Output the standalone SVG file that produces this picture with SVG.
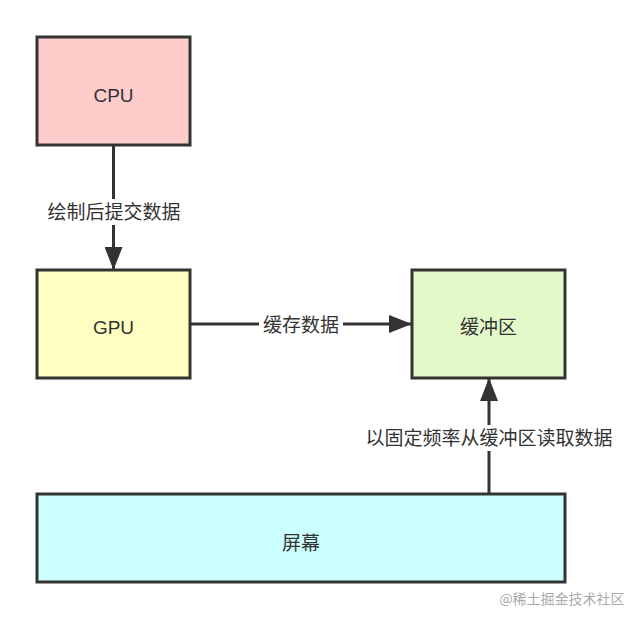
<svg xmlns="http://www.w3.org/2000/svg" width="640" height="621" viewBox="0 0 640 621">
<defs>
<marker id="arr" viewBox="0 0 23 18" refX="23" refY="9" markerWidth="23" markerHeight="18" markerUnits="userSpaceOnUse" orient="auto">
<path d="M0,0 L23,9 L0,18 z" fill="#333"/>
</marker>
<style>
.box{stroke:#333;stroke-width:3}
.t{font-family:"Liberation Sans","Noto Sans CJK SC",sans-serif;font-size:19px;fill:#333;text-anchor:middle;dominant-baseline:central}
.lbl{font-family:"Liberation Sans","Noto Sans CJK SC",sans-serif;font-size:19px;fill:#333;text-anchor:middle;dominant-baseline:central}
.line{stroke:#333;stroke-width:3;fill:none}
</style>
</defs>
<rect width="640" height="621" fill="#fff"/>
<g id="cpu"><rect class="box" x="37" y="37" width="153" height="108" fill="#ffcccc"/><text class="t" x="113.5" y="95">CPU</text></g>
<g id="gpu"><rect class="box" x="37" y="270" width="153" height="108" fill="#ffffc2"/><text class="t" x="113.5" y="327">GPU</text></g>
<g id="buffer"><rect class="box" x="412" y="270" width="153" height="108" fill="#e4f9ca"/><text class="t" x="488.5" y="327">缓冲区</text></g>
<g id="screen"><rect class="box" x="37" y="494" width="528" height="88" fill="#ccffff"/><text class="t" x="301" y="543">屏幕</text></g>
<g id="connectors">
<line class="line" x1="113.5" y1="145" x2="113.5" y2="270" marker-end="url(#arr)"/>
<rect x="42" y="199" width="144" height="26" fill="#fff"/>
<text class="lbl" x="114" y="212">绘制后提交数据</text>
<line class="line" x1="190" y1="324" x2="412" y2="324" marker-end="url(#arr)"/>
<rect x="259" y="311" width="84" height="26" fill="#fff"/>
<text class="lbl" x="301" y="325">缓存数据</text>
<line class="line" x1="489" y1="494" x2="489" y2="378" marker-end="url(#arr)"/>
<rect x="359" y="425" width="260" height="26" fill="#fff"/>
<text class="lbl" x="489" y="438">以固定频率从缓冲区读取数据</text>
</g>
<text x="562" y="598" font-family="'Noto Sans CJK SC',sans-serif" font-size="14" fill="#aaa" text-anchor="middle" dominant-baseline="central">@稀土掘金技术社区</text>
</svg>
